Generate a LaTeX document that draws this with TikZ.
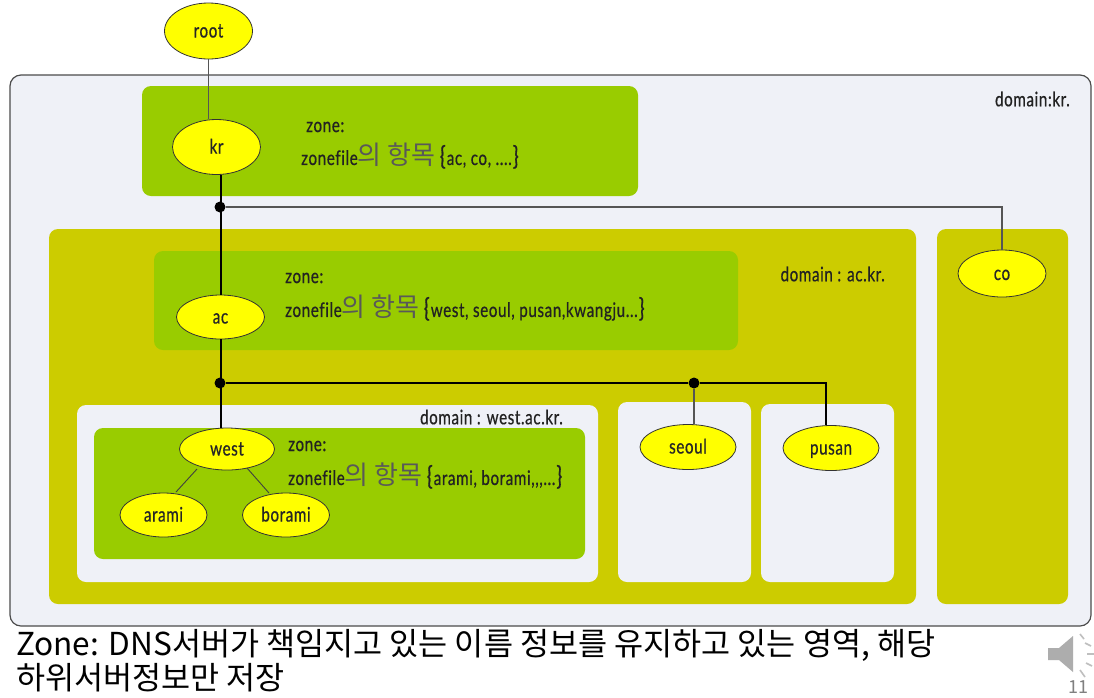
\documentclass[tikz,border=0pt]{standalone}
\usepackage{fontspec}
\setmainfont{Noto Sans CJK KR}
\newfontfamily\lab[FakeStretch=0.76,FakeBold=0.6,LetterSpace=3,Ligatures=NoCommon]{Lato}
\newfontfamily\kor{Noto Sans CJK KR}
\definecolor{panel}{HTML}{EFF1F7}
\definecolor{zonegreen}{HTML}{99CC00}
\definecolor{olive}{HTML}{CCCC00}
\definecolor{nodey}{HTML}{FFFF00}
\definecolor{wire}{HTML}{555555}
\definecolor{ink}{HTML}{222222}
\usetikzlibrary{shapes.geometric}
\tikzset{
 x=1pt,y=-1pt,
 hostnode/.style={ellipse,draw=black!80,line width=.8pt,fill=nodey,minimum width=#1,inner sep=0pt,text height=14pt,text depth=1pt,font=\lab\fontsize{20}{22}\selectfont,text=black!85},
 hostnode/.default=88pt,
 conn/.style={line width=1.3pt,draw=#1},
 conn/.default=black,
 wirec/.style={line width=1.8pt,draw=wire},
 dot/.style={circle,fill=black,inner sep=0pt,minimum size=11pt},
 txt/.style={anchor=west,inner sep=0pt,font=\lab\fontsize{20}{22}\selectfont,text=ink},
 kr/.style={font=\kor\fontsize{#1}{34}\selectfont},
 zonebox/.style={fill=zonegreen,rounded corners=9pt},
 olivebox/.style={fill=olive,rounded corners=9pt},
 panelbox/.style={fill=panel,rounded corners=9pt},
}
\newcommand{\ko}[1]{{\kor\fontsize{26}{26}\selectfont\color{black!65}#1}}
\newcommand{\lb}{{\fontsize{26}{26}\selectfont\{}\kern1pt}
\newcommand{\rb}{\kern1pt{\fontsize{26}{26}\selectfont\}}}
\begin{document}
\begin{tikzpicture}
\useasboundingbox[fill=white] (0,0) rectangle (1094,697);
% boxes
\draw[panelbox,draw=black!70,line width=1.2pt,rounded corners=11pt] (10,75) rectangle (1091,626);
\fill[zonebox] (142,86) rectangle (638,196);
\fill[olivebox] (49,229) rectangle (916,604);
\fill[olivebox] (937,229) rectangle (1068,604);
\fill[zonebox] (154,251) rectangle (738,350);
\fill[panelbox] (77,405) rectangle (598,582);
\fill[panelbox] (618,402) rectangle (751,582);
\fill[panelbox] (761,404) rectangle (894,582);
\fill[zonebox] (94,428) rectangle (585,559);
% connector points
\coordinate (j1) at (220,207);
\coordinate (j2) at (220,383);
\coordinate (j3) at (694,383);
\coordinate (top1) at (221,207);
\coordinate (top2) at (221,383);
\coordinate (turn1) at (1002,207);
\coordinate (turn2) at (826,383);
\coordinate (wl) at (197,469);
\coordinate (al) at (176,492);
\coordinate (wr) at (247,468);
\coordinate (bl) at (269,493);
% nodes
\node[hostnode=88pt,minimum height=56pt] (root) at (208.5,31) {root};
\node[hostnode=88pt,minimum height=55pt] (kr) at (216.5,147) {kr};
\node[hostnode=88pt,minimum height=44pt] (ac) at (220.5,317) {ac};
\node[hostnode=88pt,minimum height=47pt] (co) at (1002,273.5) {co};
\node[hostnode=95pt,minimum height=42pt] (west) at (227,449) {west};
\node[hostnode=87pt,minimum height=44pt] (arami) at (163.5,515) {arami};
\node[hostnode=87pt,minimum height=44pt] (borami) at (286,515) {borami};
\node[hostnode=96pt,minimum height=45pt] (seoul) at (688,447) {seoul};
\node[hostnode=96pt,minimum height=45pt] (pusan) at (831,448) {pusan};
\node[dot] (d1) at (j1) {};
\node[dot] (d2) at (j2) {};
\node[dot] (d3) at (j3) {};
% connectors
\draw[wirec] (root.south) -- (root.south |- kr.north);
\draw[conn] (top1 |- kr.south) -- (top1);
\draw[conn] (top1) -- (top1 |- ac.north);
\draw[wirec] (d1) -- (turn1) -- (co.north);
\draw[conn] (top2 |- ac.south) -- (top2);
\draw[conn] (top2) -- (top2 |- west.north);
\draw[conn] (d2) -- (d3);
\draw[conn] (d3) -- (turn2) -- (turn2 |- pusan.north);
\draw[wirec] (d3) -- (d3 |- seoul.north);
\draw[line width=.9pt,draw=black!75] (wl) -- (al);
\draw[line width=.9pt,draw=black!75] (wr) -- (bl);
% labels
\node[txt] (z1) at (306,127) {zone:};
\node[txt] (f1) at (301,156) {zonefile\ko{의 항목} \lb ac, co, ....\rb};
\node[txt] (z2) at (285,278) {zone:};
\node[txt] (f2) at (285,308) {zonefile\ko{의 항목} \lb west, seoul, pusan,kwangju...\rb};
\node[txt] (z3) at (288,446) {zone:};
\node[txt] (f3) at (288,476) {zonefile\ko{의 항목} \lb arami, borami,,,...\rb};
\node[txt,anchor=east] (t0) at (1070,99) {domain:kr.};
\node[txt,anchor=east] (t1) at (885,274) {domain : ac.kr.};
\node[txt,anchor=east] (t2) at (563,417) {domain : west.ac.kr.};
\node[anchor=west,inner sep=0pt,kr=31.6,text=black] (b1) at (16,645) {Zone: DNS서버가 책임지고 있는 이름 정보를 유지하고 있는 영역, 해당};
\node[anchor=west,inner sep=0pt,kr=31.6,text=black] (b2) at (16,678) {하위서버정보만 저장};
\node[anchor=center,inner sep=0pt,font=\fontsize{18}{20}\selectfont,text=black!50] (pg) at (1078,687.5) {11};
% speaker
\fill[black!32] (1048,648) -- (1059,648) -- (1073,636) -- (1073,672) -- (1059,660) -- (1048,660) -- cycle;
\foreach \a/\b/\c/\d in {1080/634/1084/639,1085/643/1091/646,1087/654/1094/654,1086/663/1092/666,1080/670/1085/677}
  \draw[black!25,line width=1.6pt] (\a,\b) -- (\c,\d);
\end{tikzpicture}
\end{document}
